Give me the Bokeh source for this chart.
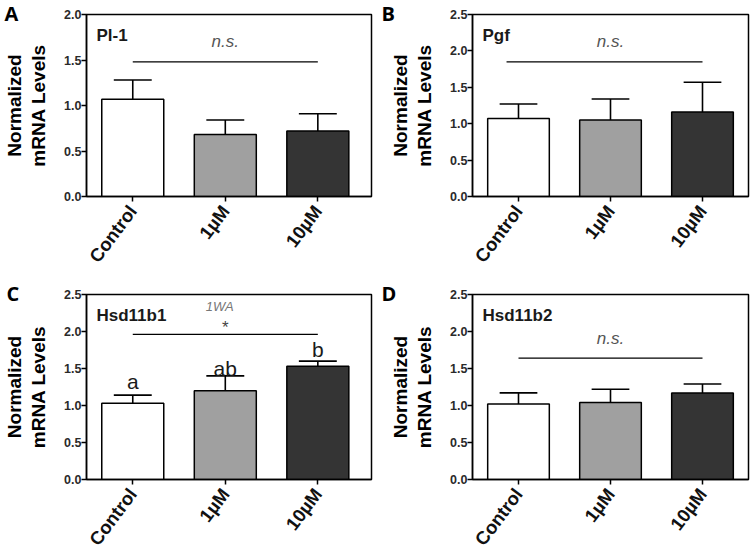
import math
from bokeh.plotting import figure
from bokeh.models import ColumnDataSource, FixedTicker, Label, Range1d, PrintfTickFormatter
from bokeh.layouts import gridplot
from bokeh.embed import file_html
from bokeh.resources import INLINE

# ---------------- data ----------------
categories = ["Control", "1µM", "10µM"]
bar_colors = ["#ffffff", "#a0a0a0", "#343434"]

pl1_mean = [1.07, 0.68, 0.72]
pl1_err = [0.21, 0.16, 0.19]
pgf_mean = [1.07, 1.05, 1.16]
pgf_err = [0.20, 0.29, 0.41]
hsd11b1_mean = [1.03, 1.20, 1.53]
hsd11b1_err = [0.11, 0.20, 0.07]
hsd11b2_mean = [1.02, 1.04, 1.17]
hsd11b2_err = [0.15, 0.18, 0.12]

hsd11b1_letters = ["a", "ab", "b"]
genes = ["Pl-1", "Pgf", "Hsd11b1", "Hsd11b2"]
panel_letters = ["A", "B", "C", "D"]
y_max = [2.0, 2.5, 2.5, 2.5]
y_ticks_a = [0.0, 0.5, 1.0, 1.5, 2.0]
y_ticks_bcd = [0.0, 0.5, 1.0, 1.5, 2.0, 2.5]
sig_levels = [1.48, 1.85, 1.96, 1.64]
sig_texts = ["n.s.", "n.s.", "*", "n.s."]

# label positions (annotation layout)
letter_label_y = [1.33, 1.50, 1.76]
FONT = "Liberation Sans"


def make_panel(i, means, errs, yticks, xmax, w, h, bl, br, bt, bb,
               letter_dx, sig_x0):
    ymax = y_max[i]
    p = figure(width=w, height=h,
               min_border_left=bl, min_border_right=br,
               min_border_top=bt, min_border_bottom=bb,
               x_range=Range1d(-0.5, xmax), y_range=Range1d(0, ymax),
               output_backend="svg", toolbar_location=None, tools="")

    xs = list(range(len(categories)))
    tops = [m + e for m, e in zip(means, errs)]
    src = ColumnDataSource(dict(
        x=xs, mean=means, top=tops, color=bar_colors,
        cl=[x - 0.205 for x in xs], cr=[x + 0.205 for x in xs]))
    p.segment(x0="x", y0="mean", x1="x", y1="top", source=src,
              line_color="black", line_width=1.6)
    p.segment(x0="cl", y0="top", x1="cr", y1="top", source=src,
              line_color="black", line_width=1.6)
    p.vbar(x="x", top="mean", width=0.67, fill_color="color",
           line_color="black", line_width=1.5, source=src)

    # significance line
    p.line(x=[xs[0] + sig_x0, xs[-1]], y=[sig_levels[i], sig_levels[i]],
           line_color="black", line_width=1.2)

    # axes styling
    p.xgrid.visible = False
    p.ygrid.visible = False
    p.outline_line_color = "black"
    p.outline_line_width = 1.5
    p.background_fill_color = "white"
    p.border_fill_color = "white"

    p.yaxis.ticker = FixedTicker(ticks=yticks)
    p.yaxis.formatter = PrintfTickFormatter(format="%.1f")
    p.xaxis.ticker = FixedTicker(ticks=xs)
    p.xaxis.major_label_overrides = {x: c for x, c in zip(xs, categories)}
    p.xaxis.major_label_orientation = 0.925
    for ax in (p.xaxis, p.yaxis):
        ax.axis_line_color = "black"
        ax.axis_line_width = 1.5
        ax.major_tick_line_color = "black"
        ax.major_tick_line_width = 1.5
        ax.major_tick_in = 0
        ax.major_tick_out = 5
        ax.minor_tick_line_color = None
        ax.major_label_text_font = FONT
        ax.major_label_text_font_style = "bold"
    p.yaxis.major_label_standoff = 0
    p.xaxis.major_label_standoff = 6
    p.yaxis.major_label_text_font_size = "12.5px"
    p.yaxis.major_label_text_color = "#2a2a2a"
    p.xaxis.major_label_text_font_size = "18.5px"
    p.xaxis.major_label_text_color = "#111111"
    p.yaxis.axis_label = "Normalized\nmRNA Levels"
    p.yaxis.axis_label_text_font = FONT
    p.yaxis.axis_label_text_font_style = "bold"
    p.yaxis.axis_label_text_font_size = "19px"
    p.yaxis.axis_label_text_line_height = 1.15
    p.yaxis.axis_label_text_color = "black"
    p.yaxis.axis_label_standoff = 12

    # panel letter as a left-aligned title shifted over the axis area
    p.title.text = panel_letters[i]
    p.title.align = "left"
    p.title.offset = letter_dx
    p.title.standoff = -24
    p.title.text_font = "Open Sans"
    p.title.text_font_style = "bold"
    p.title.text_font_size = "20px"
    p.title.text_color = "black"

    return p, xs


def annotate(p, i, fw, fh, xmax, xs, sig_text_y):
    ymax = y_max[i]
    vpx = ymax / fh
    p.add_layout(Label(x=-0.5 + 10 * (xmax + 0.5) / fw, y=ymax - 20.5 * vpx,
                       text=genes[i], text_font=FONT, text_font_style="bold",
                       text_font_size="17px", text_color="#1a1a1a",
                       text_align="left", text_baseline="middle"))
    if sig_texts[i] == "n.s.":
        p.add_layout(Label(x=xs[1], y=sig_text_y, text="n.s.",
                           text_font=FONT, text_font_style="italic",
                           text_font_size="17px", text_color="#555555",
                           text_align="center", text_baseline="middle"))


def hsd11b1_extra(p, xs):
    p.add_layout(Label(x=xs[1] - 0.06, y=2.34, text="1WA", text_font=FONT,
                       text_font_style="italic", text_font_size="13px",
                       text_color="#777777", text_align="center",
                       text_baseline="middle"))
    p.add_layout(Label(x=xs[1], y=2.06, text="*", text_font=FONT,
                       text_font_size="17px", text_color="#444444",
                       text_align="center", text_baseline="middle"))
    for x, ly, lab in zip(xs, letter_label_y, hsd11b1_letters):
        p.add_layout(Label(x=x, y=ly, text=lab, text_font=FONT,
                           text_font_size="21px", text_color="#1a1a1a",
                           text_align="center", text_baseline="middle"))


pA, xs = make_panel(0, pl1_mean, pl1_err, y_ticks_a, 2.58, 375, 276, 85, 4, 14, 80, -82, 0.0)
pB, _ = make_panel(1, pgf_mean, pgf_err, y_ticks_bcd, 2.5, 375, 276, 97, 2, 14, 80, -91, -0.13)
pC, _ = make_panel(2, hsd11b1_mean, hsd11b1_err, y_ticks_bcd, 2.58, 375, 282, 85, 4, 18, 79, -80, 0.0)
pD, _ = make_panel(3, hsd11b2_mean, hsd11b2_err, y_ticks_bcd, 2.5, 375, 282, 97, 2, 18, 79, -91, 0.0)

annotate(pA, 0, 286, 182, 2.58, xs, 1.70)
annotate(pB, 1, 276, 182, 2.5, xs, 2.13)
annotate(pC, 2, 286, 185, 2.58, xs, 0)
annotate(pD, 3, 276, 185, 2.5, xs, 1.90)
hsd11b1_extra(pC, xs)

grid = gridplot([[pA, pB], [pC, pD]], toolbar_location=None)

open("out.html", "w").write(file_html(grid, INLINE))
